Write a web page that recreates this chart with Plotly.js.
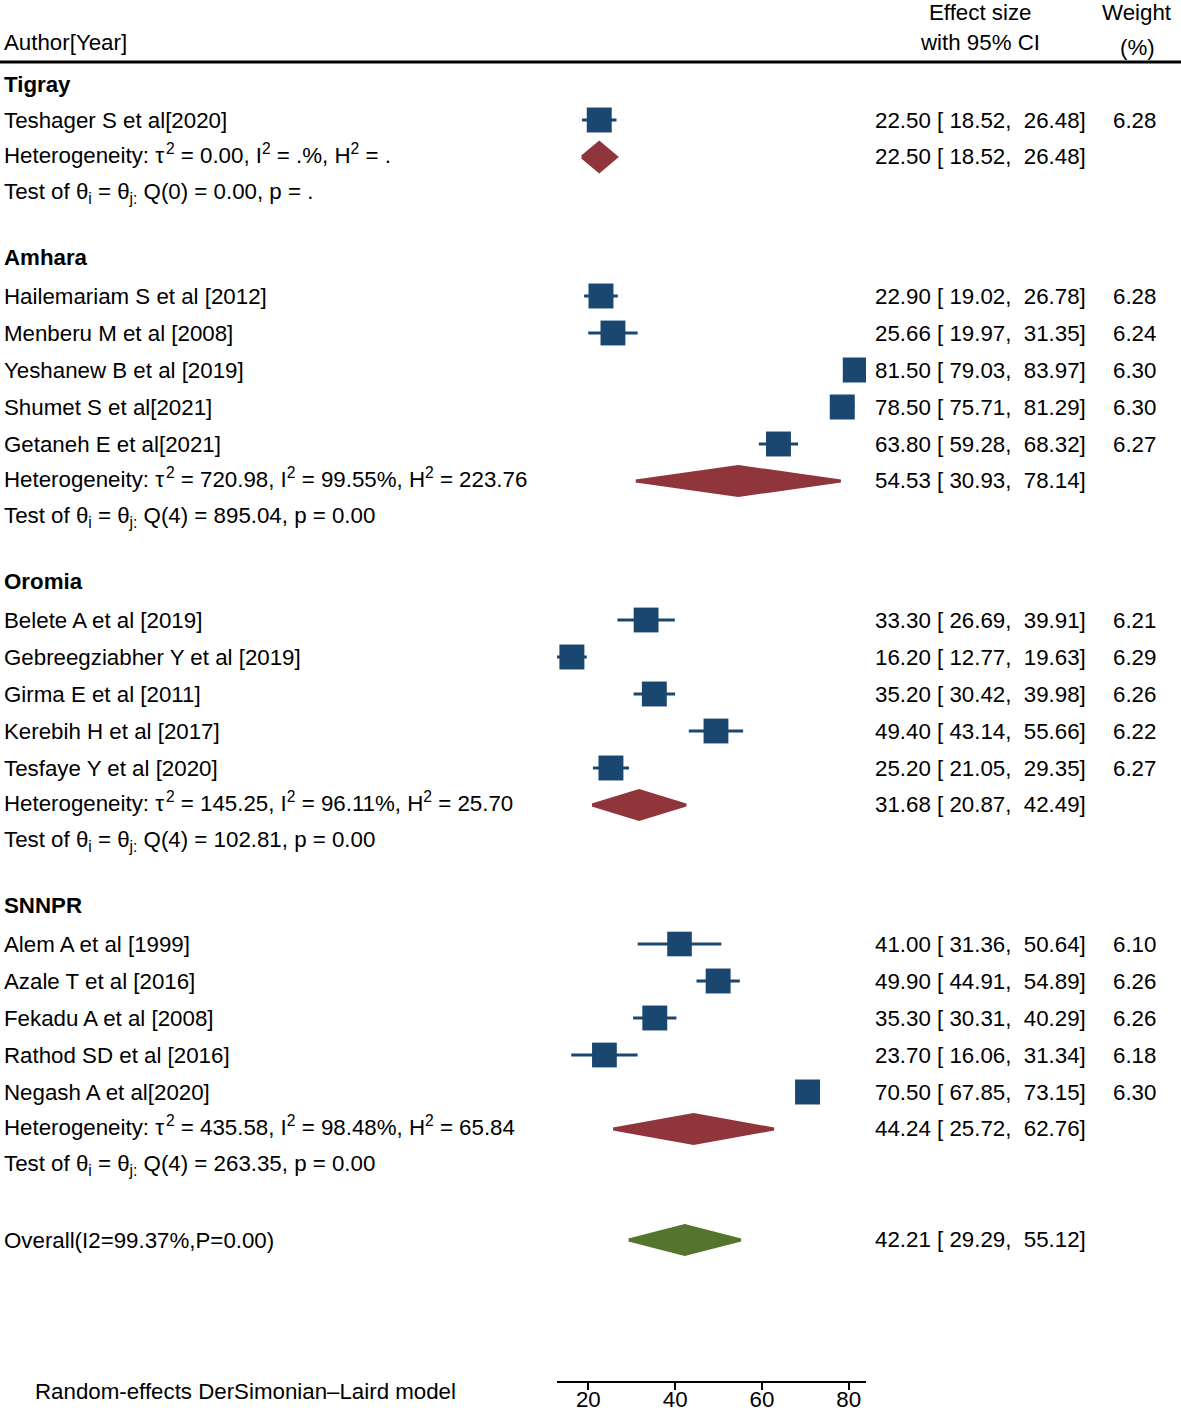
<!DOCTYPE html>
<html><head><meta charset="utf-8">
<script src="https://cdn.plot.ly/plotly-3.0.1.min.js"></script>
<style>html,body{margin:0;padding:0;background:#fff}</style>
</head><body><div id="chart" style="width:1181px;height:1416px"></div>
<script>
// ---------------- data ----------------
const groupNames = ["Tigray", "Amhara", "Oromia", "SNNPR"];
const studyNames = [
  "Teshager S et al[2020]",
  "Hailemariam S et al [2012]", "Menberu M et al [2008]", "Yeshanew B et al [2019]", "Shumet S et al[2021]", "Getaneh E et al[2021]",
  "Belete A et al [2019]", "Gebreegziabher Y et al [2019]", "Girma E et al [2011]", "Kerebih H et al [2017]", "Tesfaye Y et al [2020]",
  "Alem A et al [1999]", "Azale T et al [2016]", "Fekadu A et al [2008]", "Rathod SD et al [2016]", "Negash A et al[2020]"
];
const studyGroup  = [0, 1, 1, 1, 1, 1, 2, 2, 2, 2, 2, 3, 3, 3, 3, 3];
const studyES     = [22.50, 22.90, 25.66, 81.50, 78.50, 63.80, 33.30, 16.20, 35.20, 49.40, 25.20, 41.00, 49.90, 35.30, 23.70, 70.50];
const studyLo     = [18.52, 19.02, 19.97, 79.03, 75.71, 59.28, 26.69, 12.77, 30.42, 43.14, 21.05, 31.36, 44.91, 30.31, 16.06, 67.85];
const studyHi     = [26.48, 26.78, 31.35, 83.97, 81.29, 68.32, 39.91, 19.63, 39.98, 55.66, 29.35, 50.64, 54.89, 40.29, 31.34, 73.15];
const studyWeight = [6.28, 6.28, 6.24, 6.30, 6.30, 6.27, 6.21, 6.29, 6.26, 6.22, 6.27, 6.10, 6.26, 6.26, 6.18, 6.30];

const groupES   = [22.50, 54.53, 31.68, 44.24];
const groupLo   = [18.52, 30.93, 20.87, 25.72];
const groupHi   = [26.48, 78.14, 42.49, 62.76];
const groupTau2 = [0.00, 720.98, 145.25, 435.58];
const groupI2   = [null, 99.55, 96.11, 98.48];
const groupH2   = [null, 223.76, 25.70, 65.84];
const groupQ    = [0.00, 895.04, 102.81, 263.35];
const groupDf   = [0, 4, 4, 4];
const groupP    = [null, 0.00, 0.00, 0.00];

const overallES = 42.21, overallLo = 29.29, overallHi = 55.12;
const overallI2 = 99.37, overallP = 0.00;

const xTicks = [20, 40, 60, 80];

// ---------------- layout helpers ----------------
const W = 1181, H = 1416, PLOT_BOTTOM = 1381;
const ROW = 37, GAP = 28, TOP = 83, HALF_DIAMOND = 14.5;
const NAVY = "#1a476f", MAROON = "#90353b", GREEN = "#55752f";
const FONT = "Liberation Sans, Arial, Helvetica, sans-serif";
const FS = 22.3;
const NB = "\u00a0";

const f2 = v => (v === null ? "." : v.toFixed(2));
const ciText = (e, l, h) => f2(e) + " [" + NB + f2(l) + "," + NB + NB + f2(h) + "]";

const annotations = [];
function txt(xpx, y, text, anchor, yref) {
  annotations.push({
    xref: "paper", x: xpx / W, xanchor: anchor,
    yref: yref || "y", y: y, yanchor: "middle",
    text: text, showarrow: false, borderpad: 0, borderwidth: 0,
    font: {family: FONT, size: FS, color: "#000"}
  });
}

const ciX = [], ciY = [];
const sqX = [], sqY = [], sqS = [];
const dmX = [], dmY = [];

let y = TOP;
groupNames.forEach((g, gi) => {
  txt(4, gi === 0 ? y + 1 : y - 2, "<b>" + g + "</b>", "left");
  y += ROW;
  studyNames.forEach((n, i) => {
    if (studyGroup[i] !== gi) return;
    txt(4, y, n, "left");
    txt(1086, y, ciText(studyES[i], studyLo[i], studyHi[i]), "right");
    txt(1156, y, studyWeight[i].toFixed(2), "right");
    ciX.push(studyLo[i], studyHi[i], null); ciY.push(y, y, null);
    sqX.push(studyES[i]); sqY.push(y); sqS.push(25 * Math.sqrt(studyWeight[i] / 6.30));
    y += ROW;
  });
  const i2 = groupI2[gi] === null ? "." : groupI2[gi].toFixed(2);
  txt(4, y - 3, "Heterogeneity: τ\u200a<sup>2</sup> = " + f2(groupTau2[gi]) + ", I<sup>2</sup> = " + i2 + "%, H<sup>2</sup> = " + f2(groupH2[gi]), "left");
  txt(1086, y - 1, ciText(groupES[gi], groupLo[gi], groupHi[gi]), "right");
  dmX.push(groupLo[gi], groupES[gi], groupHi[gi], groupES[gi], groupLo[gi], null);
  dmY.push(y, y - HALF_DIAMOND, y, y + HALF_DIAMOND, y, null);
  y += ROW;
  txt(4, y - 1, "Test of θ<sub>i</sub> = θ<sub>j:</sub> Q(" + groupDf[gi] + ") = " + f2(groupQ[gi]) + ", p = " + f2(groupP[gi]), "left");
  y += ROW + (gi < groupNames.length - 1 ? GAP : ROW);
});
txt(4, y, "Overall(I2=" + overallI2.toFixed(2) + "%,P=" + overallP.toFixed(2) + ")", "left");
txt(1086, y - 1, ciText(overallES, overallLo, overallHi), "right");
const ovX = [overallLo, overallES, overallHi, overallES, overallLo];
const ovY = [y, y - HALF_DIAMOND, y, y + HALF_DIAMOND, y];

// header
txt(4, 42, "Author[Year]", "left");
txt(980, 12, "Effect size", "center");
txt(980, 42, "with 95% CI", "center");
txt(1137, 12, "Weight", "center");
txt(1137, 47, "(%)", "center");
annotations.push({
  xref: "paper", x: 34 / W, xanchor: "left", yref: "paper", y: 1 - 1391 / H, yanchor: "middle",
  text: "Random-effects DerSimonian–Laird model", showarrow: false, borderpad: 0,
  font: {family: FONT, size: FS, color: "#000"}
});

const allLo = studyLo.concat(groupLo, [overallLo]);
const allHi = studyHi.concat(groupHi, [overallHi]);
const xMin = Math.min(...allLo), xMax = Math.max(...allHi);

const traces = [
  {x: ciX, y: ciY, mode: "lines", line: {color: NAVY, width: 3}, hoverinfo: "skip"},
  {x: sqX, y: sqY, mode: "markers", marker: {symbol: "square", color: NAVY, opacity: 1, size: sqS, line: {width: 0}}, hoverinfo: "skip"},
  {x: dmX, y: dmY, mode: "lines", fill: "toself", fillcolor: MAROON, line: {color: MAROON, width: 3}, hoverinfo: "skip"},
  {x: ovX, y: ovY, mode: "lines", fill: "toself", fillcolor: GREEN, line: {color: GREEN, width: 3}, hoverinfo: "skip"}
];

const layout = {
  width: W, height: H,
  margin: {l: 0, r: 0, t: 0, b: 0, pad: 0},
  paper_bgcolor: "#fff", plot_bgcolor: "#fff",
  showlegend: false,
  font: {family: FONT, size: FS, color: "#000"},
  xaxis: {
    domain: [557 / W, 866 / W], range: [xMin, xMax],
    tickvals: xTicks, ticktext: xTicks.map(String),
    ticks: "outside", ticklen: 7, tickwidth: 2, tickcolor: "#000",
    ticklabelstandoff: -10,
    showline: true, linewidth: 2, linecolor: "#000",
    showgrid: false, zeroline: false, fixedrange: true,
    tickfont: {family: FONT, size: FS, color: "#000"}
  },
  yaxis: {
    domain: [1 - PLOT_BOTTOM / H, 1], range: [PLOT_BOTTOM, 0],
    visible: false, showgrid: false, zeroline: false, fixedrange: true
  },
  shapes: [{type: "line", xref: "paper", x0: 0, x1: 1, yref: "y", y0: 62, y1: 62, line: {color: "#000", width: 3}}],
  annotations: annotations
};

Plotly.newPlot("chart", traces, layout, {staticPlot: true, displayModeBar: false});
</script></body></html>
